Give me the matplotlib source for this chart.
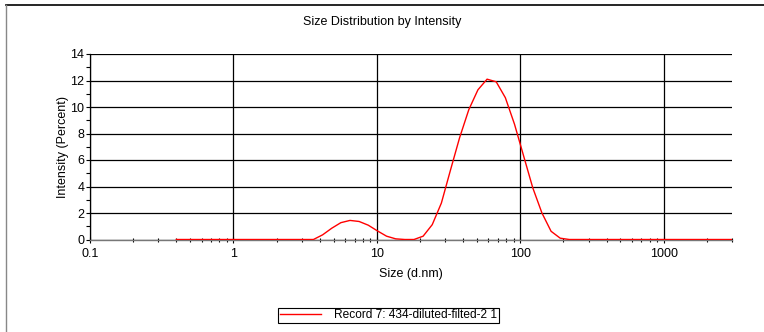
import matplotlib
matplotlib.use("Agg")
import matplotlib.pyplot as plt
from matplotlib.lines import Line2D
from matplotlib.ticker import FixedLocator, FixedFormatter, NullFormatter

plt.rcParams['font.family'] = ['Liberation Sans', 'DejaVu Sans']

# Size bins (d.nm)
sizes = [0.4000, 0.4632, 0.5365, 0.6213, 0.7195, 0.8332, 0.9650, 1.117, 1.294, 1.499,
         1.736, 2.010, 2.328, 2.696, 3.122, 3.615, 4.187, 4.849, 5.615, 6.503,
         7.531, 8.721, 10.10, 11.70, 13.54, 15.69, 18.17, 21.04, 24.36, 28.21,
         32.67, 37.84, 43.82, 50.75, 58.77, 68.06, 78.82, 91.28, 105.7, 122.4,
         141.8, 164.2, 190.1, 220.2, 255.0, 295.3, 342.0, 396.1, 458.7, 531.2,
         615.1, 712.4, 825.0, 955.4, 1106, 1281, 1484, 1718, 1990, 2305,
         2669, 3091, 3580, 4145, 4801, 5560, 6439, 7456, 8635, 10000]
# Intensity (Percent)
intensity = [0, 0, 0, 0, 0, 0, 0, 0, 0, 0,
             0, 0, 0, 0, 0, 0.0, 0.35, 0.85, 1.27, 1.44,
             1.36, 1.08, 0.65, 0.25, 0.05, 0, 0.0, 0.25, 1.12, 2.75,
             5.25, 7.7, 9.8, 11.3, 12.1, 11.9, 10.7, 8.7, 6.3, 3.9,
             2.0, 0.62, 0.1, 0, 0, 0, 0, 0, 0, 0,
             0, 0, 0, 0, 0, 0, 0, 0, 0, 0,
             0, 0, 0, 0, 0, 0, 0, 0, 0, 0]

x_ticks = [0.1, 1, 10, 100, 1000]
x_tick_labels = ['0.1', '1', '10', '100', '1000']
y_ticks = [0, 2, 4, 6, 8, 10, 12, 14]

W, H = 764, 332
fig = plt.figure(figsize=(W / 100, H / 100), dpi=100)
fig.patch.set_facecolor('white')

left, right, top, bottom = 90, 732, 54, 239.5
ax = fig.add_axes([left / W, 1 - bottom / H, (right - left) / W, (bottom - top) / H])

ax.plot(sizes, intensity, color='#ff0000', lw=1.0, label='Record 7: 434-diluted-filted-2 1', zorder=5)

ax.set_xscale('log')
ax.set_xlim(0.1, 3000)
ax.set_ylim(0, 14)

ax.xaxis.set_major_locator(FixedLocator(x_ticks))
ax.xaxis.set_major_formatter(FixedFormatter(x_tick_labels))
minors = []
for d in [0.1, 1, 10, 100, 1000]:
    for m in range(2, 10):
        v = d * m
        if v <= 3000:
            minors.append(v)
ax.xaxis.set_minor_locator(FixedLocator(minors))
ax.xaxis.set_minor_formatter(NullFormatter())

ax.yaxis.set_major_locator(FixedLocator(y_ticks))
ax.yaxis.set_minor_locator(FixedLocator([1, 3, 5, 7, 9, 11, 13]))

ax.grid(True, which='major', color='black', lw=0.9)
ax.set_axisbelow(True)

ax.spines['top'].set_visible(False)
ax.spines['right'].set_visible(False)
ax.spines['left'].set_color('black')
ax.spines['bottom'].set_color('#777777')
ax.spines['left'].set_linewidth(0.9)
ax.spines['bottom'].set_linewidth(1.0)

ax.tick_params(axis='both', which='major', labelsize=9, colors='black', length=3, width=0.8)
ax.tick_params(axis='y', which='major', pad=1)
ax.tick_params(axis='x', which='major', direction='inout', length=4, pad=4)
ax.tick_params(axis='x', which='minor', direction='inout', length=3, width=0.8)
ax.tick_params(axis='y', which='minor', direction='out', length=3, width=0.8)

ax.set_xlabel('Size (d.nm)', fontsize=9, labelpad=6)
ax.set_ylabel('Intensity (Percent)', fontsize=9, labelpad=1)

fig.text(382 / W, 1 - 22 / H, 'Size Distribution by Intensity', ha='center', va='center', fontsize=9)

leg = fig.legend(loc='center', bbox_to_anchor=(388.5 / W, 1 - 315.5 / H), fontsize=8.6,
                 frameon=True, fancybox=False, edgecolor='black', framealpha=1,
                 borderpad=0.12, handlelength=3.5, handletextpad=1.1, borderaxespad=0)
leg.get_frame().set_linewidth(0.8)

# Figure border (top and left)
fig.add_artist(Line2D([6 / W, 1.0], [1 - 5 / H, 1 - 5 / H], color='black', lw=1.2, transform=fig.transFigure))
fig.add_artist(Line2D([6 / W, 6 / W], [0, 1 - 5 / H], color='#888888', lw=1.0, transform=fig.transFigure))

fig.savefig('out.png', dpi=100)
